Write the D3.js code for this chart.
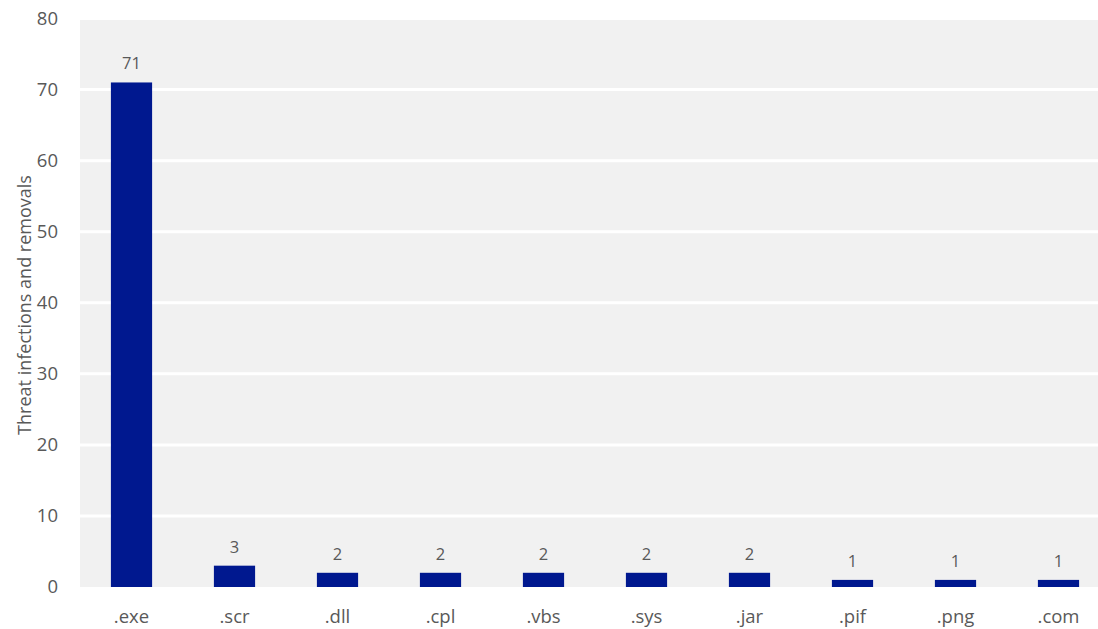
<!DOCTYPE html>
<html><head><meta charset="utf-8">
<script src="https://cdn.jsdelivr.net/npm/d3@7"></script>
<style>body{margin:0;background:#fff;overflow:hidden}text{font-family:"Open Sans","Noto Sans",sans-serif}</style>
</head><body><svg id="c" width="1098" height="629"></svg>
<script>
const categories = [".exe",".scr",".dll",".cpl",".vbs",".sys",".jar",".pif",".png",".com"];
const values = [71,3,2,2,2,2,2,1,1,1];
const yTicks = [0,10,20,30,40,50,60,70,80];
const yTitle = "Threat infections and removals";

const svg = d3.select("#c");
const mLeft = 80, mRight = 1110, mTop = 18.5, mBottom = 587;
const x = d3.scaleBand().domain(categories).range([mLeft, mRight]).paddingInner(0.6).paddingOuter(0.3);
const y = d3.scaleLinear().domain([0, 80]).range([mBottom, mTop]);

svg.append("rect").attr("x", mLeft).attr("y", mTop).attr("width", mRight - mLeft).attr("height", mBottom - mTop).attr("fill", "#f1f1f1");

svg.append("g").selectAll("line").data(yTicks.filter(d => d > 0)).join("line")
  .attr("x1", mLeft).attr("x2", mRight).attr("y1", d => y(d)).attr("y2", d => y(d))
  .attr("stroke", "#fff").attr("stroke-width", 3);

const yAxis = svg.append("g").attr("transform", `translate(${mLeft},0)`)
  .call(d3.axisLeft(y).tickValues(yTicks).tickSize(0).tickPadding(22));
yAxis.select(".domain").remove();
yAxis.selectAll("text").attr("fill", "#595959").attr("font-size", 18.5).attr("font-family", '"Open Sans","Noto Sans",sans-serif');

const xAxis = svg.append("g").attr("transform", `translate(0,${mBottom})`)
  .call(d3.axisBottom(x).tickSize(0).tickPadding(23));
xAxis.select(".domain").remove();
xAxis.selectAll("text").attr("fill", "#595959").attr("font-size", 18.5).attr("font-family", '"Open Sans","Noto Sans",sans-serif');

const data = categories.map((c, i) => ({c, v: values[i]}));
svg.append("g").selectAll("rect").data(data).join("rect")
  .attr("x", d => x(d.c)).attr("width", x.bandwidth())
  .attr("y", d => y(d.v)).attr("height", d => y(0) - y(d.v))
  .attr("fill", "#00188f");

svg.append("g").selectAll("text").data(data).join("text")
  .attr("x", d => x(d.c) + x.bandwidth() / 2).attr("y", d => y(d.v) - 13)
  .attr("text-anchor", "middle").attr("font-size", 16.5).attr("fill", "#595959")
  .text(d => d.v);

svg.append("text").attr("transform", `translate(31,305) rotate(-90)`)
  .attr("text-anchor", "middle").attr("font-size", 18).attr("fill", "#595959").text(yTitle);
</script></body></html>
